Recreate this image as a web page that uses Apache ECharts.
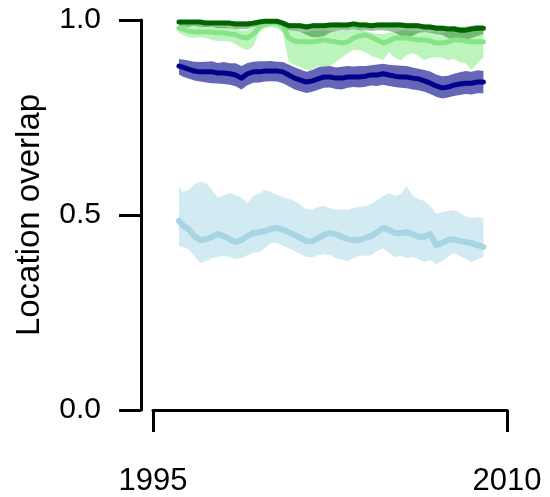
<!DOCTYPE html>
<html>
<head>
<meta charset="utf-8">
<script src="https://cdn.jsdelivr.net/npm/echarts@6/dist/echarts.min.js"></script>
<style>html,body{margin:0;padding:0;background:#fff}#c{width:550px;height:497px}</style>
</head>
<body>
<div id="c"></div>
<script>
const years = [1996.1,1996.25,1996.5,1996.75,1997,1997.25,1997.5,1997.75,1998,1998.25,1998.5,1998.75,1999,1999.25,1999.5,1999.75,2000,2000.25,2000.5,2000.75,2001,2001.25,2001.5,2001.75,2002,2002.25,2002.5,2002.75,2003,2003.25,2003.5,2003.75,2004,2004.25,2004.5,2004.75,2005,2005.25,2005.5,2005.75,2006,2006.25,2006.5,2006.75,2007,2007.25,2007.5,2007.75,2008,2008.25,2008.5,2008.75,2009];

const xTicks = [1995, 2010];
const yTicks = [0.0, 0.5, 1.0];

const lightBlueMid = [0.485,0.474,0.464,0.446,0.436,0.438,0.444,0.451,0.446,0.438,0.431,0.436,0.446,0.454,0.456,0.459,0.464,0.467,0.462,0.456,0.449,0.441,0.433,0.433,0.441,0.449,0.454,0.451,0.444,0.438,0.436,0.436,0.441,0.446,0.456,0.467,0.462,0.454,0.454,0.456,0.451,0.444,0.444,0.451,0.423,0.428,0.436,0.438,0.433,0.431,0.428,0.423,0.418];
const lightBlueHi = [0.574,0.559,0.564,0.579,0.585,0.582,0.564,0.544,0.551,0.556,0.551,0.544,0.531,0.549,0.556,0.564,0.559,0.551,0.546,0.541,0.536,0.526,0.515,0.513,0.521,0.523,0.518,0.513,0.515,0.513,0.518,0.521,0.523,0.528,0.538,0.549,0.556,0.549,0.554,0.574,0.549,0.541,0.536,0.523,0.503,0.508,0.510,0.513,0.505,0.497,0.492,0.495,0.492];
const lightBlueLo = [0.421,0.418,0.413,0.395,0.377,0.382,0.390,0.392,0.395,0.392,0.387,0.390,0.397,0.403,0.405,0.415,0.428,0.428,0.421,0.415,0.408,0.400,0.392,0.392,0.397,0.400,0.397,0.390,0.385,0.382,0.390,0.397,0.395,0.397,0.408,0.415,0.403,0.392,0.395,0.390,0.392,0.387,0.379,0.385,0.374,0.382,0.392,0.403,0.395,0.387,0.379,0.387,0.392];

const navyMid = [0.882,0.879,0.874,0.869,0.867,0.867,0.867,0.864,0.864,0.862,0.859,0.851,0.862,0.867,0.867,0.869,0.869,0.869,0.867,0.859,0.851,0.846,0.841,0.844,0.849,0.854,0.854,0.851,0.851,0.854,0.854,0.854,0.856,0.859,0.859,0.862,0.859,0.856,0.854,0.854,0.851,0.849,0.844,0.838,0.831,0.826,0.828,0.833,0.836,0.838,0.838,0.841,0.841];
const navyHi = [0.900,0.899,0.896,0.893,0.892,0.893,0.894,0.890,0.892,0.889,0.889,0.882,0.890,0.893,0.894,0.894,0.895,0.893,0.892,0.886,0.879,0.873,0.867,0.872,0.879,0.883,0.882,0.878,0.880,0.882,0.881,0.882,0.882,0.884,0.886,0.888,0.885,0.884,0.883,0.882,0.878,0.875,0.872,0.868,0.860,0.856,0.857,0.862,0.866,0.869,0.867,0.871,0.869];
const navyLo = [0.860,0.855,0.850,0.845,0.842,0.840,0.838,0.837,0.836,0.834,0.830,0.822,0.833,0.839,0.840,0.842,0.843,0.842,0.838,0.830,0.822,0.817,0.813,0.816,0.821,0.826,0.827,0.823,0.822,0.826,0.828,0.827,0.829,0.832,0.831,0.834,0.831,0.828,0.826,0.825,0.822,0.820,0.816,0.810,0.803,0.799,0.801,0.805,0.808,0.810,0.809,0.812,0.812];

const lightGreenMid = [0.979,0.977,0.972,0.969,0.969,0.969,0.969,0.967,0.967,0.964,0.962,0.956,0.954,0.964,0.982,0.990,0.992,0.992,0.985,0.954,0.946,0.944,0.944,0.944,0.946,0.949,0.946,0.944,0.941,0.944,0.954,0.959,0.962,0.956,0.949,0.941,0.946,0.954,0.954,0.954,0.951,0.949,0.949,0.946,0.941,0.941,0.944,0.949,0.949,0.946,0.944,0.944,0.944];
const lightGreenHi = [0.990,0.987,0.985,0.985,0.985,0.985,0.982,0.982,0.982,0.979,0.979,0.974,0.974,0.982,0.992,0.997,0.997,0.997,0.992,0.974,0.972,0.969,0.969,0.972,0.974,0.974,0.972,0.972,0.972,0.974,0.979,0.977,0.972,0.967,0.964,0.964,0.967,0.969,0.972,0.974,0.972,0.972,0.969,0.969,0.967,0.967,0.969,0.972,0.972,0.969,0.969,0.972,0.972];
const lightGreenLo = [0.967,0.962,0.956,0.954,0.956,0.954,0.949,0.946,0.946,0.944,0.938,0.928,0.923,0.933,0.969,0.979,0.982,0.979,0.967,0.892,0.885,0.879,0.872,0.872,0.882,0.879,0.882,0.892,0.903,0.915,0.923,0.923,0.918,0.908,0.903,0.897,0.918,0.903,0.897,0.910,0.915,0.908,0.897,0.903,0.905,0.903,0.897,0.900,0.892,0.890,0.872,0.890,0.903];

const darkGreenMid = [0.995,0.995,0.995,0.995,0.995,0.992,0.992,0.992,0.992,0.992,0.990,0.990,0.990,0.992,0.995,0.997,0.997,0.997,0.992,0.985,0.985,0.985,0.982,0.985,0.985,0.985,0.987,0.987,0.987,0.987,0.990,0.987,0.987,0.985,0.987,0.987,0.987,0.987,0.987,0.985,0.985,0.985,0.982,0.982,0.979,0.979,0.977,0.977,0.974,0.974,0.977,0.979,0.979];
const darkGreenHi = [1.000,1.000,1.000,1.000,1.000,0.998,0.998,0.997,0.998,0.997,0.996,0.997,0.996,0.998,1.000,1.000,1.000,1.000,0.998,0.992,0.991,0.992,0.989,0.991,0.992,0.991,0.993,0.994,0.993,0.993,0.996,0.993,0.994,0.991,0.993,0.994,0.993,0.994,0.993,0.991,0.992,0.991,0.989,0.988,0.986,0.986,0.984,0.985,0.982,0.983,0.985,0.987,0.986];
const darkGreenLo = [0.985,0.985,0.982,0.985,0.982,0.982,0.982,0.979,0.979,0.979,0.977,0.977,0.977,0.982,0.985,0.987,0.987,0.987,0.979,0.974,0.972,0.969,0.962,0.956,0.956,0.959,0.967,0.972,0.974,0.974,0.977,0.974,0.974,0.972,0.974,0.974,0.972,0.967,0.959,0.954,0.959,0.967,0.969,0.967,0.964,0.962,0.954,0.949,0.946,0.949,0.954,0.959,0.964];

const FONT = 'Liberation Sans, Helvetica, Arial, sans-serif';

function band(name, lo, hi, fill) {
  return {
    type: 'custom', name: name, silent: true,
    data: years.map((t, i) => [t, lo[i], hi[i]]),
    encode: { x: 0, y: [1, 2] },
    renderItem: function (params, api) {
      if (params.dataIndex !== 0) return null;
      const pts = [];
      for (let i = 0; i < years.length; i++) pts.push(api.coord([years[i], hi[i]]));
      for (let i = years.length - 1; i >= 0; i--) pts.push(api.coord([years[i], lo[i]]));
      return { type: 'polygon', shape: { points: pts }, style: { fill: fill } };
    }
  };
}
function line(name, mid, color, w) {
  return {
    type: 'line', name: name, showSymbol: false, silent: true,
    data: years.map((t, i) => [t, mid[i]]),
    lineStyle: { color: color, width: w, join: 'round', cap: 'round' },
    itemStyle: { color: color }
  };
}

const chart = echarts.init(document.getElementById('c'), null, { renderer: 'canvas' });
chart.setOption({
  animation: false,
  backgroundColor: '#fff',
  grid: { left: 153, right: 43, top: 20, bottom: 87, containLabel: false },
  xAxis: {
    type: 'value', min: xTicks[0], max: xTicks[1], interval: xTicks[1] - xTicks[0], offset: 16,
    axisLine: { show: true, lineStyle: { color: '#000', width: 3 } },
    axisTick: { show: true, length: 22, lineStyle: { color: '#000', width: 3 } },
    axisLabel: { fontSize: 31, color: '#000', margin: 40, fontFamily: FONT, formatter: v => String(v) },
    splitLine: { show: false }
  },
  yAxis: {
    type: 'value', min: yTicks[0], max: yTicks[2], interval: yTicks[1] - yTicks[0], offset: 12,
    axisLine: { show: true, lineStyle: { color: '#000', width: 3 } },
    axisTick: { show: true, length: 22, lineStyle: { color: '#000', width: 3 } },
    axisLabel: { fontSize: 30, color: '#000', margin: 40, fontFamily: FONT, formatter: v => v.toFixed(1) },
    splitLine: { show: false },
    name: 'Location overlap', nameLocation: 'middle', nameGap: 95,
    nameTextStyle: { fontSize: 33, color: '#000', fontFamily: FONT }
  },
  series: [
    band('lightblue band', lightBlueLo, lightBlueHi, 'rgba(173,216,230,0.55)'),
    line('lightblue', lightBlueMid, '#a8d5e2', 6),
    band('navy band', navyLo, navyHi, 'rgba(0,0,139,0.6)'),
    line('navy', navyMid, '#00008b', 5),
    band('lightgreen band', lightGreenLo, lightGreenHi, 'rgba(144,238,144,0.6)'),
    line('lightgreen', lightGreenMid, '#86e386', 5),
    band('darkgreen band', darkGreenLo, darkGreenHi, 'rgba(0,100,0,0.4)'),
    line('darkgreen', darkGreenMid, '#006400', 5)
  ]
});
</script>
</body>
</html>
